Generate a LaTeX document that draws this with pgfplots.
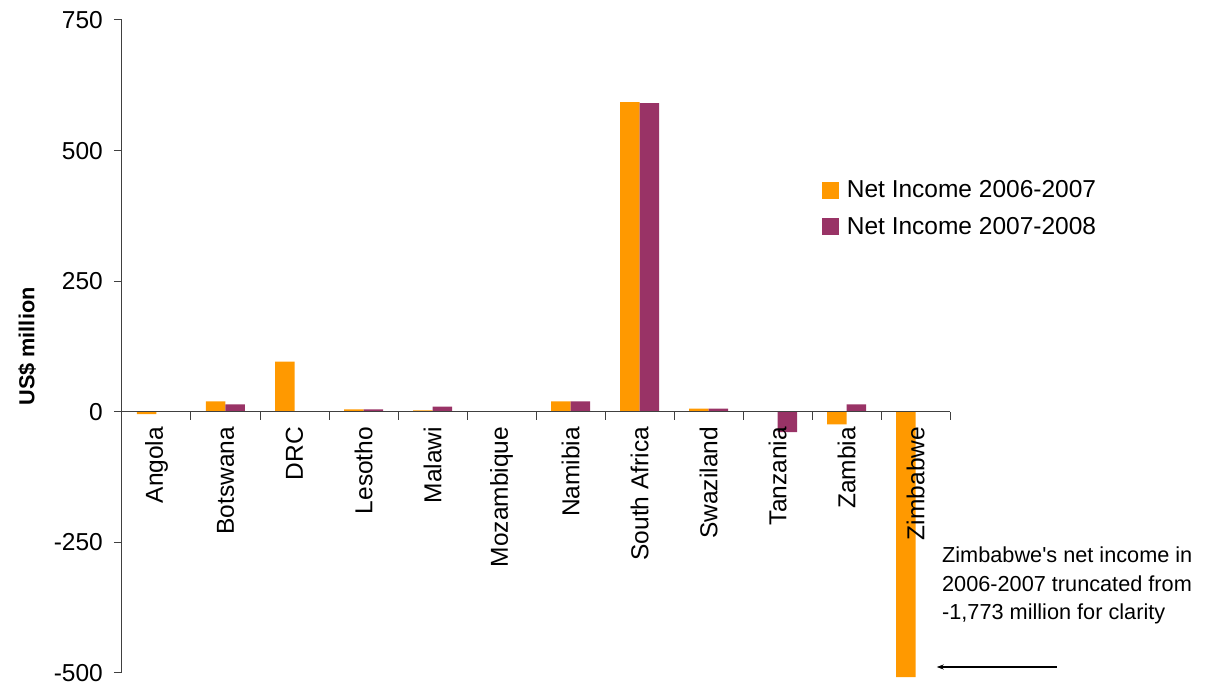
\documentclass[border=0pt]{standalone}
\usepackage{pgfplots}
\pgfplotsset{compat=1.18}
\usepackage{fontspec}
\setmainfont{Liberation Sans}[Ligatures=TeXOff]
\usetikzlibrary{arrows.meta}
\definecolor{cOrange}{RGB}{255,153,0}
\definecolor{cPurple}{RGB}{153,51,102}
\begin{document}
\begin{tikzpicture}
\useasboundingbox (-122pt,-15pt) rectangle (1083pt,673pt);
\begin{axis}[
  at={(0,0)}, anchor=south west,
  scale only axis, width=828pt, height=653pt,
  xmin=-0.5, xmax=11.5, ymin=-500, ymax=750,
  axis x line=middle, axis y line=left,
  axis on top,
  axis line style={-, black!75, line width=1pt},
  every tick/.style={black!75, line width=1pt},
  tick align=outside,
  major tick length=8pt, minor tick length=8pt,
  xtick={0,...,11},
  xticklabels={Angola,Botswana,DRC,Lesotho,Malawi,Mozambique,Namibia,South Africa,Swaziland,Tanzania,Zambia,Zimbabwe},
  minor xtick={-0.5,0.5,...,11.5},
  major x tick style={draw=none},
  xticklabel style={rotate=90, anchor=east, inner sep=0pt, xshift=-7pt, font=\fontsize{24.5}{29}\selectfont},
  ytick={-500,-250,0,250,500,750},
  yticklabels={-500,-250,0,250,500,750},
  yticklabel style={font=\fontsize{24.5}{29}\selectfont, inner sep=0pt, xshift=-11pt},
  ylabel={US\$ million},
  ylabel style={at={(axis description cs:-0.1147,0.5)}, anchor=center, font=\bfseries\fontsize{21.7}{26}\selectfont},
  ybar=0pt, bar width=19.5pt,
  clip=false,
  legend style={at={(axis description cs:0.845,0.757)}, anchor=north west, draw=none, fill=none,
    font=\fontsize{24.5}{29}\selectfont, row sep=13.5pt, column sep=6pt, inner sep=0pt,
    nodes={inner sep=2pt}},
  legend cell align=left,
  legend image code/.code={\fill[#1, draw=none] (0pt,-8.5pt) rectangle (17pt,8.5pt);},
]
\addplot[fill=cOrange, draw=none] coordinates {
(0,-4.5) (1,20) (2,96) (3,4.5) (4,2.5) (5,0) (6,20) (7,593) (8,6) (9,0) (10,-24) (11,-508)};
\addplot[fill=cPurple, draw=none] coordinates {
(0,0) (1,14) (2,0) (3,4.5) (4,10) (5,0) (6,20) (7,591) (8,6) (9,-39) (10,14) (11,0)};
\legend{Net Income 2006-2007, Net Income 2007-2008}
\node[anchor=north west, align=left, inner sep=0pt, font=\fontsize{21.7}{28.5}\selectfont]
  at (rel axis cs:0.9903,0.193) {Zimbabwe's net income in\\2006-2007 truncated from\\-1,773 million for clarity};
\draw[{Stealth[length=7pt,width=5pt]}-, line width=1.1pt, black]
  (rel axis cs:0.984,0.0092) -- (rel axis cs:1.129,0.0092);
\end{axis}
\end{tikzpicture}
\end{document}
